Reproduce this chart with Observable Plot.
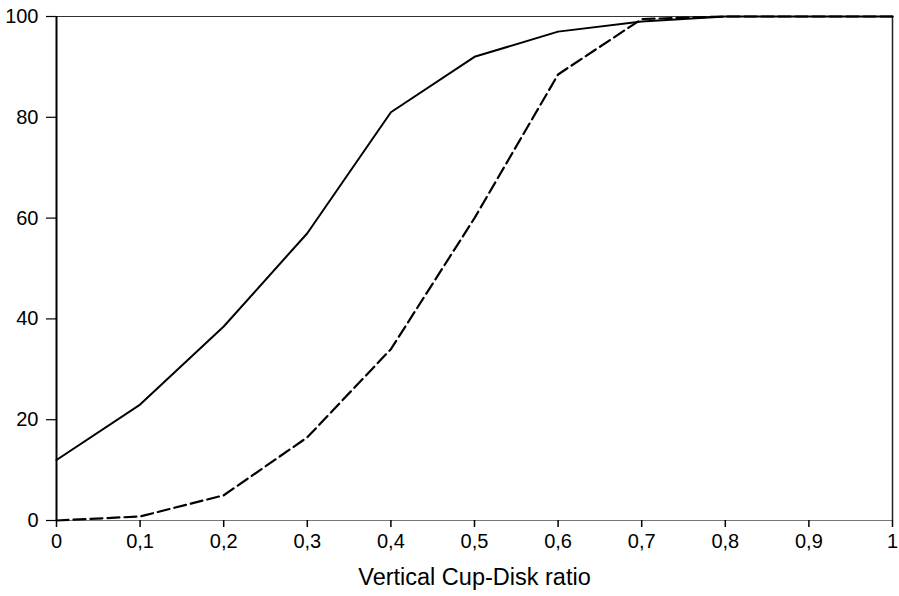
<!DOCTYPE html>
<html>
<head>
<meta charset="utf-8">
<script src="https://cdn.jsdelivr.net/npm/d3@7"></script>
<script src="https://cdn.jsdelivr.net/npm/@observablehq/plot@0.6"></script>
<style>
body { margin: 0; background: #fff; }
#chart svg { font-family: "Liberation Sans", Arial, sans-serif; }
</style>
</head>
<body>
<div id="chart"></div>
<script>
const ratios = [0, 0.1, 0.2, 0.3, 0.4, 0.5, 0.6, 0.7, 0.8, 0.9, 1];
const solidSeries = [12, 23, 38.5, 57, 81, 92, 97, 99, 100, 100, 100];
const dashedSeries = [0, 0.8, 5, 16.5, 34, 60, 88.5, 99.5, 100, 100, 100];
const xTicks = [0, 0.1, 0.2, 0.3, 0.4, 0.5, 0.6, 0.7, 0.8, 0.9, 1];
const yTicks = [0, 20, 40, 60, 80, 100];
const xTitle = "Vertical Cup-Disk ratio";

const solid = ratios.map((x, i) => ({x, y: solidSeries[i]}));
const dashed = ratios.map((x, i) => ({x, y: dashedSeries[i]}));
const comma = d => String(d).replace(".", ",");

const chart = Plot.plot({
  width: 899,
  height: 596,
  marginLeft: 56,
  marginRight: 7,
  marginTop: 16,
  marginBottom: 76,
  style: {fontSize: "20px", fontFamily: "'Liberation Sans', Arial, sans-serif", color: "#000", background: "#fff"},
  x: {domain: [0, 1], label: null},
  y: {domain: [0, 100], label: null},
  marks: [
    Plot.ruleY([100], {stroke: "#333", strokeWidth: 1.2}),
    Plot.ruleX([1], {stroke: "#222", strokeWidth: 1.5}),
    Plot.ruleY([0], {stroke: "#777", strokeWidth: 1.2}),
    Plot.ruleX([0], {stroke: "#000", strokeWidth: 2}),
    Plot.axisX({ticks: xTicks, tickFormat: comma, tickSize: 7, tickPadding: 6, stroke: "#000", strokeWidth: 1.5, fontSize: 20, label: null}),
    Plot.axisY({ticks: yTicks, tickSize: 10, tickPadding: 8, stroke: "#000", strokeWidth: 1.2, fontSize: 20, label: null}),
    Plot.text([xTitle], {frameAnchor: "bottom", dy: 64, fontSize: 23.5, fill: "#000"}),
    Plot.line(solid, {x: "x", y: "y", stroke: "#000", strokeWidth: 2}),
    Plot.line(dashed, {x: "x", y: "y", stroke: "#000", strokeWidth: 2.2, strokeDasharray: "12,5"})
  ]
});
document.getElementById("chart").append(chart);
</script>
</body>
</html>
